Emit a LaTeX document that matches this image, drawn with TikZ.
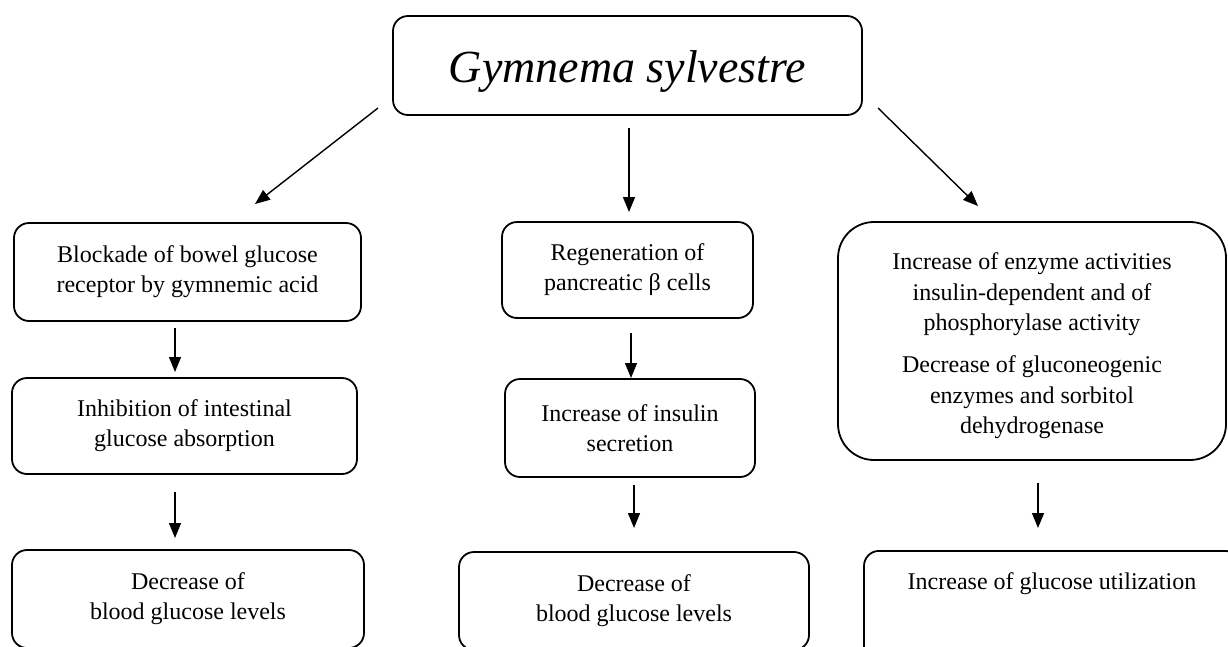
\documentclass[tikz,border=0pt]{standalone}
\usepackage{fontspec}
\setmainfont{Liberation Serif}
\usetikzlibrary{arrows.meta}
\tikzset{
  box/.style={draw=black, line width=1.8pt, rounded corners=15pt, align=center, inner sep=0pt,
    font=\fontsize{24}{30}\selectfont},
  arr/.style={line width=1.4pt, -{Triangle[width=12pt,length=15pt]}}
}
\begin{document}
\begin{tikzpicture}[x=1pt,y=-1pt]
\useasboundingbox (0,0) rectangle (1228,646);
\clip (0,0) rectangle (1228,646);
\fill[white] (0,0) rectangle (1228,646);
% top
\node[box, minimum width=469pt, minimum height=99pt, text height=40pt, text depth=6pt, font=\fontsize{46}{48}\selectfont\itshape] (top) at (627.5,65.5) {Gymnema sylvestre};
% left column
\node[box, minimum width=347pt, minimum height=98pt] (l1) at (187.5,272) {Blockade of bowel glucose\\receptor by gymnemic acid};
\node[box, minimum width=345pt, minimum height=96pt] (l2) at (184.5,426) {Inhibition of intestinal\\glucose absorption};
\node[box, minimum width=352pt, minimum height=98pt] (l3) at (188,599) {Decrease of\\blood glucose levels};
% middle column
\node[box, minimum width=251pt, minimum height=96pt] (m1) at (627.5,270) {Regeneration of\\pancreatic β cells};
\node[box, minimum width=250pt, minimum height=98pt] (m2) at (630,428) {Increase of insulin\\secretion};
\node[box, minimum width=350pt, minimum height=98pt] (m3) at (634,601) {Decrease of\\blood glucose levels};
% right column
\node[box, rounded corners=36pt, minimum width=388pt, minimum height=238pt] (r1) at (1032,341)
  {\raisebox{-11pt}[100pt][100pt]{\parbox{380pt}{\centering\fontsize{24}{30.5}\selectfont Increase of enzyme activities\\insulin-dependent and of\\phosphorylase activity\\[11.5pt]Decrease of gluconeogenic\\enzymes and sorbitol\\dehydrogenase}}};
\node[box, anchor=north, minimum width=376pt, text height=15pt, text depth=70pt, inner ysep=24pt] (r2) at (1052,550) {Increase of glucose utilization};
% arrow coordinates
\coordinate (a1s) at (378,108); \coordinate (a1e) at (255,204);
\coordinate (a2s) at (629,128); \coordinate (a2e) at (629,212);
\coordinate (a3s) at (878,108); \coordinate (a3e) at (978,206);
\coordinate (l1s) at (175,328); \coordinate (l1e) at (175,372);
\coordinate (l2s) at (175,492); \coordinate (l2e) at (175,538);
\coordinate (m1s) at (631,333); \coordinate (m1e) at (631,378);
\coordinate (m2s) at (634,485); \coordinate (m2e) at (634,528);
\coordinate (r1s) at (1038,483); \coordinate (r1e) at (1038,528);
\draw[arr] (a1s) -- (a1e);
\draw[arr] (a2s) -- (a2e);
\draw[arr] (a3s) -- (a3e);
\draw[arr] (l1s) -- (l1e);
\draw[arr] (l2s) -- (l2e);
\draw[arr] (m1s) -- (m1e);
\draw[arr] (m2s) -- (m2e);
\draw[arr] (r1s) -- (r1e);
\end{tikzpicture}
\end{document}
